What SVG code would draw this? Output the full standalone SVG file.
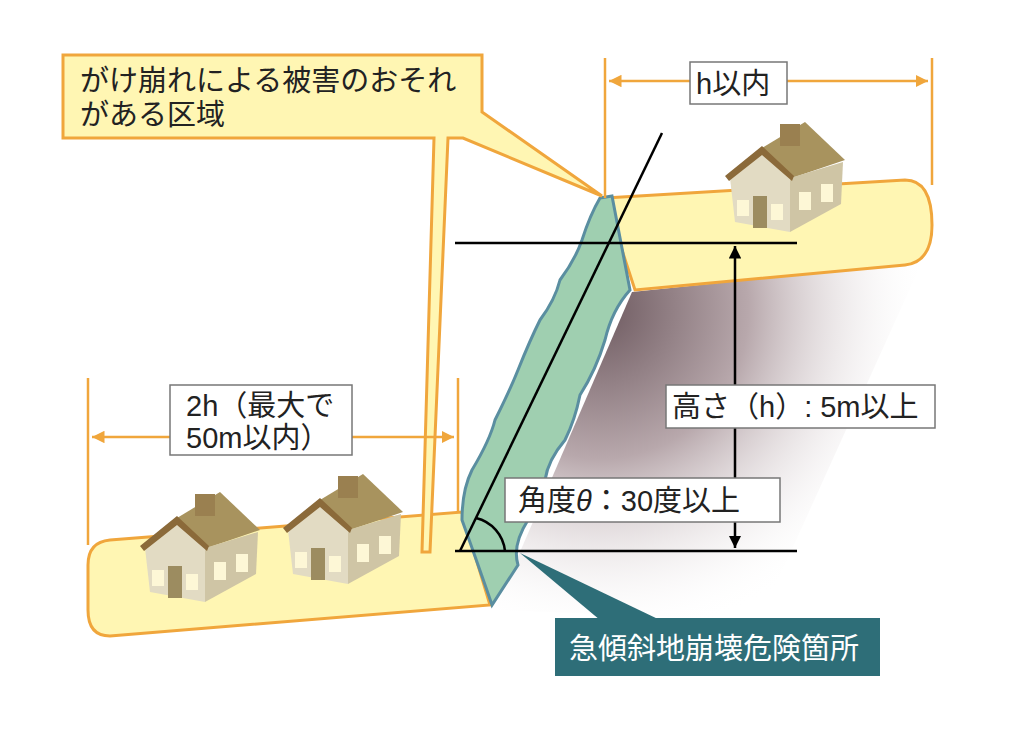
<svg xmlns="http://www.w3.org/2000/svg" xmlns:xlink="http://www.w3.org/1999/xlink" width="1010" height="738" viewBox="0 0 1010 738">
<style>
.gr{fill:#fff6b3;stroke:#f0a63c;stroke-width:3}
.dim{stroke:#f0a63c;stroke-width:2.5;fill:none}
.blk{stroke:#000;stroke-width:2.5;fill:none}
.box{fill:#fff;stroke:#777;stroke-width:1.5}
.t{font-family:"Liberation Sans","Noto Sans CJK JP",sans-serif;font-size:29px;fill:#222}
</style>
<defs>
<radialGradient id="sh" gradientUnits="userSpaceOnUse" cx="600" cy="310" r="330" fx="600" fy="310">
<stop offset="0" stop-color="#6e5a60"/><stop offset="0.45" stop-color="#b8a8ac"/><stop offset="1" stop-color="#fff" stop-opacity="0"/></radialGradient>
<marker id="oa" viewBox="0 0 10 10" refX="10" refY="5" markerWidth="5" markerHeight="5" orient="auto-start-reverse"><path d="M0,0L10,5L0,10z" fill="#f0a63c"/></marker>
<marker id="ba" viewBox="0 0 10 10" refX="10" refY="5" markerWidth="5" markerHeight="5" orient="auto-start-reverse"><path d="M0,0L10,5L0,10z" fill="#000"/></marker>
<g id="house">
<polygon points="37,30 80,4 120,42 67,60" fill="#a8935e"/>
<rect x="55" y="6" width="20" height="22" fill="#9a8050"/>
<polygon points="65,60 118,44 116,86 65,114" fill="#cfc5a5"/>
<polygon points="5,60 37,34 65,60 65,114 10,104" fill="#e2dbc3"/>
<polygon points="0,58 37,28 69,58 67,63 37,37 4,63" fill="#8b6a3a"/>
<rect x="28" y="78" width="14" height="32" fill="#9c8c60"/>
<rect x="12" y="82" width="12" height="16" fill="#fdf7d6"/>
<rect x="46" y="86" width="12" height="16" fill="#fdf7d6"/>
<rect x="74" y="74" width="12" height="18" fill="#fdf7d6"/>
<rect x="96" y="66" width="12" height="18" fill="#fdf7d6"/>
</g>
</defs>
<rect width="1010" height="738" fill="#fff"/>
<g id="shadow"><polygon points="632,292 922,262 760,620 495,610" fill="url(#sh)"/></g>
<g id="ground-left"><path class="gr" d="M110,540 L462,512 L490,605 L110,636 Q88,636 88,610 L88,565 Q88,542 110,540Z"/></g>
<g id="ground-upper"><path class="gr" d="M605,198 L905,180 Q932,180 932,225 Q932,262 905,265 L635,290Z"/></g>
<g id="cliff"><path d="M600,198 L612,196 L630,290 Q612,310 605,340 Q596,370 580,395 Q575,420 565,440 Q548,460 545,480 Q535,505 528,520 Q512,545 518,565 Q505,585 492,605 Q480,570 462,520 Q462,490 472,470 Q490,440 495,420 Q510,390 518,370 Q530,340 540,320 Q555,300 560,280 Q575,260 582,240 Q590,215 600,198Z" fill="#9fcfb0" stroke="#5a8ea0" stroke-width="3"/></g>
<g id="houses">
<use xlink:href="#house" x="725" y="118"/>
<use xlink:href="#house" x="140" y="488"/>
<use xlink:href="#house" x="283" y="470"/>
</g>
<g id="callout"><path class="gr" d="M63,55 L482,55 L482,112 L602,196 L463,138 L448,138 L430,552 L422,552 L434,138 L63,138Z"/>
<text class="t" x="80" y="91">がけ崩れによる被害のおそれ</text><text class="t" x="80" y="125">がある区域</text></g>
<g id="connectors">
<line class="dim" x1="88" y1="378" x2="88" y2="545"/>
<line class="dim" x1="458" y1="378" x2="458" y2="512"/>
<line class="dim" x1="92" y1="437" x2="454" y2="437" marker-start="url(#oa)" marker-end="url(#oa)"/>
<line class="dim" x1="605" y1="58" x2="605" y2="198"/>
<line class="dim" x1="932" y1="58" x2="932" y2="185"/>
<line class="dim" x1="609" y1="81" x2="928" y2="81" marker-start="url(#oa)" marker-end="url(#oa)"/>
<line class="blk" x1="455" y1="243" x2="797" y2="243"/>
<line class="blk" x1="455" y1="551" x2="797" y2="551"/>
<line class="blk" x1="460" y1="551" x2="662" y2="133"/>
<line class="blk" x1="735" y1="246" x2="735" y2="548" marker-start="url(#ba)" marker-end="url(#ba)"/>
<path class="blk" d="M476,518 A38,38 0 0 1 505,551"/>
<polygon points="520,553 600,620 660,620" fill="#2e6e78"/>
</g>
<g id="label-2h"><rect class="box" x="170" y="385" width="182" height="70"/>
<text class="t" x="186" y="416">2h（最大で</text><text class="t" x="186" y="448">50m以内）</text></g>
<g id="label-h"><rect class="box" x="690" y="62" width="97" height="42"/><text class="t" x="696" y="94">h以内</text></g>
<g id="label-height"><rect class="box" x="666" y="385" width="269" height="43"/><text class="t" x="672" y="417">高さ（h）: 5m以上</text></g>
<g id="label-angle"><rect class="box" x="505" y="478" width="275" height="44"/><text class="t" x="518" y="511">角度<tspan font-style="italic">θ</tspan>：30度以上</text></g>
<g id="label-danger"><rect x="555" y="618" width="325" height="58" fill="#2e6e78"/><text class="t" x="569" y="659" style="fill:#fff">急傾斜地崩壊危険箇所</text></g>
</svg>
